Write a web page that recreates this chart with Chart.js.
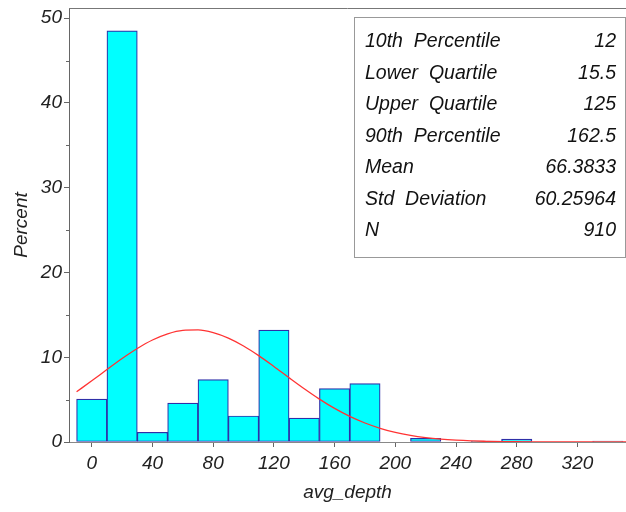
<!DOCTYPE html>
<html>
<head>
<meta charset="utf-8">
<script src="https://cdn.jsdelivr.net/npm/chart.js@4/dist/chart.umd.min.js"></script>
<style>
html,body{margin:0;padding:0;background:#fff;}
canvas{display:block;}
</style>
</head>
<body>
<canvas id="c" width="626" height="512"></canvas>
<script>
// Histogram bins (midpoints, width 20) and percent heights
const binMidpoints = [0, 20, 40, 60, 80, 100, 120, 140, 160, 180, 200, 220, 240, 260, 280, 300, 320, 340];
const binPercents  = [5.07, 48.5, 1.14, 4.6, 7.35, 3.07, 13.2, 2.83, 6.3, 6.9, null, 0.44, null, 0.11, 0.33, null, null, 0.11];

// Fitted normal curve
const curveX = [-10, 0, 10, 20, 30, 40, 50, 60, 70, 80, 90, 100, 110, 120, 130, 140, 150, 160, 170, 180, 190, 200, 210, 220, 230, 240, 250, 260, 270, 280, 290, 300, 320, 352];
const curveY = [5.93, 7.22, 8.55, 9.85, 11.03, 12.03, 12.76, 13.17, 13.22, 12.91, 12.26, 11.33, 10.19, 8.91, 7.58, 6.28, 5.06, 3.96, 3.02, 2.24, 1.62, 1.13, 0.77, 0.51, 0.33, 0.21, 0.13, 0.08, 0.04, 0.03, 0.01, 0.01, 0.0, 0.0];

const xTicks = [0, 40, 80, 120, 160, 200, 240, 280, 320];
const yTicks = [0, 10, 20, 30, 40, 50];
const yMinorTicks = [5, 15, 25, 35, 45];

const statLabels = ["10th  Percentile", "Lower  Quartile", "Upper  Quartile", "90th  Percentile", "Mean", "Std  Deviation", "N"];
const statValues = ["12", "15.5", "125", "162.5", "66.3833", "60.25964", "910"];

const FONT = 'Liberation Sans, Arial, sans-serif';

const framePlugin = {
  id: 'frame',
  afterDraw(chart) {
    const ctx = chart.ctx;
    const a = chart.chartArea;
    const ys = chart.scales.y;
    ctx.save();
    // top frame line
    ctx.strokeStyle = '#777';
    ctx.lineWidth = 1;
    ctx.beginPath();
    ctx.moveTo(a.left, Math.round(a.top) + 0.5);
    ctx.lineTo(a.right, Math.round(a.top) + 0.5);
    ctx.stroke();
    // minor y ticks
    ctx.strokeStyle = '#666';
    yMinorTicks.forEach(v => {
      const py = Math.round(ys.getPixelForValue(v)) + 0.5;
      ctx.beginPath();
      ctx.moveTo(a.left - 3, py);
      ctx.lineTo(a.left, py);
      ctx.stroke();
    });
    // stats box
    const bx = 354.5, by = 17.5, bw = 271, bh = 240;
    ctx.fillStyle = '#fff';
    ctx.fillRect(bx, by, bw, bh);
    ctx.strokeStyle = '#999';
    ctx.strokeRect(bx, by, bw, bh);
    ctx.fillStyle = '#111';
    ctx.font = 'italic 19.5px ' + FONT;
    ctx.textBaseline = 'middle';
    statLabels.forEach((t, i) => {
      const y = 42 + i * 31.5;
      ctx.textAlign = 'left';
      ctx.fillText(t, 365, y);
      ctx.textAlign = 'right';
      ctx.fillText(statValues[i], 616, y);
    });
    ctx.restore();
  }
};

new Chart(document.getElementById('c'), {
  data: {
    datasets: [
      {
        type: 'line',
        order: 0,
        data: curveX.map((x, i) => ({x: x, y: curveY[i]})),
        borderColor: '#ff3333',
        borderWidth: 1.3,
        pointRadius: 0,
        cubicInterpolationMode: 'monotone',
        fill: false
      },
      {
        type: 'bar',
        order: 1,
        data: binMidpoints.map((x, i) => ({x: x, y: binPercents[i]})),
        backgroundColor: '#00ffff',
        borderColor: '#2f2fa8',
        borderWidth: 1.2,
        borderSkipped: false,
        barPercentage: 1.0,
        categoryPercentage: 1.0
      }
    ]
  },
  options: {
    responsive: false,
    animation: false,
    layout: {padding: {top: 8, right: 0, left: 0, bottom: 0}},
    plugins: {legend: {display: false}, tooltip: {enabled: false}},
    scales: {
      x: {
        type: 'linear',
        offset: false,
        min: -15,
        max: 352,
        afterBuildTicks: s => { s.ticks = xTicks.map(v => ({value: v})); },
        afterFit: s => { s.height = 70; s.paddingLeft = 0; s.paddingRight = 0; },
        grid: {offset: false, drawOnChartArea: false, drawTicks: true, tickLength: 5, color: '#666'},
        border: {display: true, color: '#888', width: 1},
        ticks: {color: '#222', padding: 5, maxRotation: 0, font: {family: FONT, size: 19, style: 'italic'}},
        title: {display: true, text: 'avg_depth', color: '#222', padding: {top: 4, bottom: 8}, font: {family: FONT, size: 19, style: 'italic'}}
      },
      y: {
        type: 'linear',
        min: 0,
        max: 51.2,
        afterBuildTicks: s => { s.ticks = yTicks.map(v => ({value: v})); },
        afterFit: s => { s.width = 69; s.paddingTop = 0; s.paddingBottom = 0; },
        grid: {drawOnChartArea: false, drawTicks: true, tickLength: 5, color: '#666'},
        border: {display: true, color: '#666', width: 1},
        ticks: {color: '#222', padding: 2, font: {family: FONT, size: 19, style: 'italic'}},
        title: {display: true, text: 'Percent', color: '#222', padding: {top: 10, bottom: 4}, font: {family: FONT, size: 19, style: 'italic'}}
      }
    }
  },
  plugins: [framePlugin]
});
</script>
</body>
</html>
